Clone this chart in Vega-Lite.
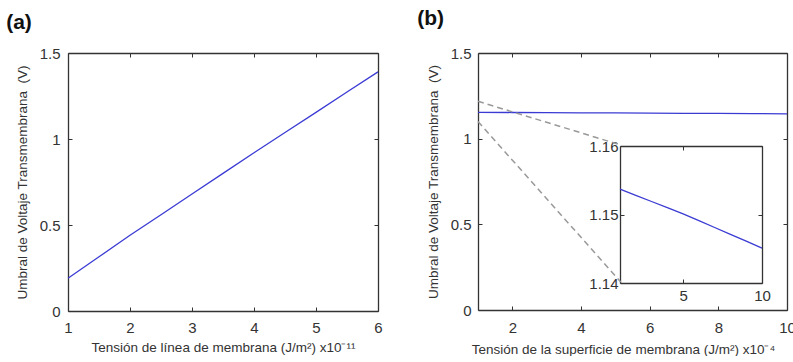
{
  "$schema": "https://vega.github.io/schema/vega-lite/v6.json",
  "padding": {"left": 6, "top": 8, "right": 0, "bottom": 0},
  "background": "white",
  "spacing": 34,
  "config": {
    "view": {"stroke": null},
    "axis": {
      "grid": false,
      "domainColor": "#333",
      "domainWidth": 1.3,
      "tickColor": "#333",
      "tickSize": -4,
      "tickWidth": 1,
      "labelFlush": false,
      "labelOverlap": false,
      "labelFont": "Liberation Sans",
      "labelFontSize": 15,
      "labelColor": "#333",
      "titleFont": "Liberation Sans",
      "titleFontSize": 13.5,
      "titleFontWeight": "normal",
      "titleColor": "#333"
    },
    "title": {"font": "Liberation Sans", "fontSize": 21, "fontWeight": "bold", "color": "#111", "anchor": "start", "frame": "bounds"}
  },
  "datasets": {
    "lineA": [
      {"x": 1, "y": 0.19}, {"x": 1.5, "y": 0.315}, {"x": 2, "y": 0.44}, {"x": 2.5, "y": 0.56},
      {"x": 3, "y": 0.68}, {"x": 3.5, "y": 0.8}, {"x": 4, "y": 0.92}, {"x": 4.5, "y": 1.038},
      {"x": 5, "y": 1.155}, {"x": 5.5, "y": 1.273}, {"x": 6, "y": 1.39}
    ],
    "lineB": [
      {"x": 1, "y": 1.1537}, {"x": 2, "y": 1.1528}, {"x": 3, "y": 1.1519}, {"x": 4, "y": 1.151},
      {"x": 5, "y": 1.1501}, {"x": 6, "y": 1.1491}, {"x": 7, "y": 1.1481}, {"x": 8, "y": 1.1471},
      {"x": 9, "y": 1.1461}, {"x": 10, "y": 1.1451}
    ],
    "dashes": [
      {"seg": "upper", "x": 1, "y": 1.218}, {"seg": "upper", "x": 5.16, "y": 0.963},
      {"seg": "lower", "x": 1, "y": 1.1}, {"seg": "lower", "x": 5.16, "y": 0.163}
    ]
  },
  "hconcat": [
    {
      "title": {"text": "(a)", "dx": -9, "offset": 13},
      "width": 310,
      "height": 258,
      "data": {"name": "lineA"},
      "layer": [
        {
          "mark": {"type": "line", "color": "#3b3bd4", "strokeWidth": 1.3},
          "encoding": {
            "x": {"field": "x", "type": "quantitative", "scale": {"domain": [1, 6], "nice": false, "zero": false},
              "axis": {"orient": "bottom", "values": [1, 2, 3, 4, 5, 6], "format": "~f", "labelPadding": 13,
                "title": "Tensión de línea de membrana (J/m²) x10⁻¹¹", "titlePadding": 5}},
            "y": {"field": "y", "type": "quantitative", "scale": {"domain": [0, 1.5], "nice": false},
              "axis": {"orient": "left", "values": [0, 0.5, 1, 1.5], "format": "~f", "labelPadding": 12,
                "title": "Umbral de Voltaje Transmembrana \u00a0(V)", "titlePadding": 10}}
          }
        },
        {
          "mark": {"type": "line", "opacity": 0},
          "encoding": {
            "x": {"field": "x", "type": "quantitative", "axis": {"orient": "top", "values": [1, 2, 3, 4, 5, 6], "labels": false, "title": null}},
            "y": {"field": "y", "type": "quantitative", "axis": {"orient": "right", "values": [0, 0.5, 1, 1.5], "labels": false, "title": null}}
          }
        }
      ],
      "resolve": {"axis": {"x": "independent", "y": "independent"}}
    },
    {
      "title": {"text": "(b)", "dx": -9, "offset": 17},
      "width": 309,
      "height": 257,
      "layer": [
        {
          "layer": [
            {
              "data": {"name": "lineB"},
              "mark": {"type": "line", "color": "#3b3bd4", "strokeWidth": 1.3},
              "encoding": {
                "x": {"field": "x", "type": "quantitative", "scale": {"domain": [1, 10], "nice": false, "zero": false},
                  "axis": {"orient": "bottom", "values": [2, 4, 6, 8, 10], "format": "~f", "labelPadding": 14,
                    "title": "Tensión de la superficie de membrana (J/m²) x10⁻⁴", "titlePadding": 7, "titleX": 145}},
                "y": {"field": "y", "type": "quantitative", "scale": {"domain": [0, 1.5], "nice": false, "zero": false},
                  "axis": {"orient": "left", "values": [0, 0.5, 1, 1.5], "format": "~f", "labelPadding": 11,
                    "title": "Umbral de Voltaje Transmembrana \u00a0(V)", "titlePadding": 10}}
              }
            },
            {
              "data": {"name": "lineB"},
              "mark": {"type": "line", "opacity": 0},
              "encoding": {
                "x": {"field": "x", "type": "quantitative", "axis": {"orient": "top", "values": [2, 4, 6, 8, 10], "labels": false, "title": null}},
                "y": {"field": "y", "type": "quantitative", "axis": {"orient": "right", "values": [0, 0.5, 1, 1.5], "labels": false, "title": null}}
              }
            },
            {
              "data": {"name": "dashes"},
              "mark": {"type": "line", "color": "#999", "strokeWidth": 1.5, "strokeDash": [6, 4]},
              "encoding": {
                "x": {"field": "x", "type": "quantitative", "axis": null},
                "y": {"field": "y", "type": "quantitative", "axis": null},
                "detail": {"field": "seg"}
              }
            }
          ],
          "resolve": {"axis": {"x": "independent", "y": "independent"}}
        },
        {
          "data": {"name": "lineB"},
          "layer": [
            {
              "mark": {"type": "line", "color": "#3b3bd4", "strokeWidth": 1.3},
              "encoding": {
                "x": {"field": "x", "type": "quantitative", "scale": {"domain": [1, 10], "nice": false, "zero": false, "range": [142, 284]},
                  "axis": {"orient": "bottom", "offset": -27, "values": [5, 10], "format": "~f", "labelPadding": 9, "title": null}},
                "y": {"field": "y", "type": "quantitative", "scale": {"domain": [1.14, 1.16], "nice": false, "zero": false, "range": [230, 93]},
                  "axis": {"orient": "left", "offset": -142, "values": [1.14, 1.15, 1.16], "format": ".2f", "labelPadding": 6, "title": null}}
              }
            },
            {
              "mark": {"type": "line", "opacity": 0},
              "encoding": {
                "x": {"field": "x", "type": "quantitative", "axis": {"orient": "top", "offset": -93, "values": [5, 10], "labels": false, "title": null}},
                "y": {"field": "y", "type": "quantitative", "axis": {"orient": "right", "offset": -25, "values": [1.14, 1.15, 1.16], "labels": false, "title": null}}
              }
            }
          ],
          "resolve": {"axis": {"x": "independent", "y": "independent"}}
        }
      ],
      "resolve": {"scale": {"x": "independent", "y": "independent"}, "axis": {"x": "independent", "y": "independent"}}
    }
  ]
}
